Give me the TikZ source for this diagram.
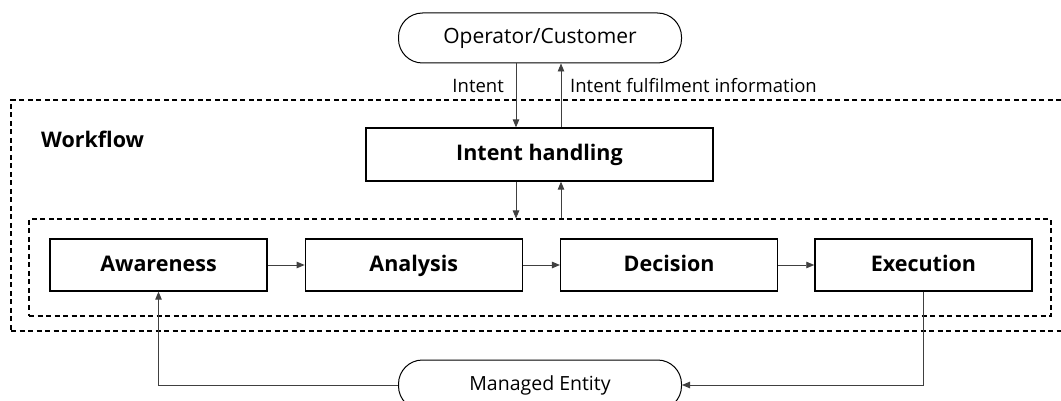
\documentclass[tikz,border=0pt]{standalone}
\usepackage{fontspec}
\setmainfont{Open Sans}
\usepackage{tikz}
\usetikzlibrary{shapes,shapes.misc,arrows.meta,calc,positioning}
\tikzset{
  stage/.style={draw, line width=1.3pt, minimum width=217pt, minimum height=52pt, text centered, inner sep=0pt, text height=16.5pt, text depth=3.5pt, font=\fontsize{21.5}{24}\selectfont\bfseries},
  term/.style={draw, line width=1pt, rounded corners=24pt, minimum width=283pt, minimum height=50pt, text centered, inner sep=0pt, text height=15pt, text depth=4.5pt},
  frame/.style={draw, line width=1.1pt, dash pattern=on 5pt off 3.5pt, inner sep=0pt},
  flow/.style={draw=black!75, line width=0.9pt, -{Triangle[length=8pt,width=6.5pt]}},
  lbl/.style={inner sep=0pt, font=\fontsize{18.5}{21}\selectfont}
}
\begin{document}
\begin{tikzpicture}[x=1pt,y=-1pt]
    \useasboundingbox (0,0) rectangle (1061,401);
    % frames
    \node (wf) [frame,minimum width=1064pt,minimum height=231pt] at (543,215.5) {};
    \node (lp) [frame,minimum width=1022pt,minimum height=97pt] at (540,267.5) {};
    \node (wlabel) [anchor=west,inner sep=0pt,font=\fontsize{21.5}{24}\selectfont\bfseries] at (41,139) {Workflow};
    % nodes
    \node (op) [term,font=\fontsize{21}{24}\selectfont] at (540,38) {Operator/Customer};
    \node (ih) [stage,minimum width=347pt,minimum height=53pt] at (539.5,154.5) {Intent handling};
    \node (aw) [stage] at (158.5,265) {Awareness};
    \node (an) [stage,right=37pt of aw] {Analysis};
    \node (de) [stage,right=37pt of an] {Decision};
    \node (ex) [stage,right=36pt of de] {Execution};
    \node (me) [term,font=\fontsize{19.5}{22}\selectfont] at (540,385) {Managed Entity};
    \coordinate (xl) at (516,0);
    \coordinate (xr) at (561,0);
    % intent
    \path (op.south -| xl) edge [flow] (ih.north -| xl);
    \path (ih.north -| xr) edge [flow] (op.south -| xr);
    \node (il) [lbl,anchor=east] at (504,86) {Intent};
    \node (fl) [lbl,anchor=west] at (570,86) {Intent fulfilment information};
    \path (ih.south -| xl) edge [flow] (lp.north -| xl);
    \path (lp.north -| xr) edge [flow] (ih.south -| xr);
    % loop
    \path (aw) edge [flow] (an);
    \path (an) edge [flow] (de);
    \path (de) edge [flow] (ex);
    \draw [flow] (ex.south) |- (me.east);
    \draw [flow] (me.west) -| (aw.south);
\end{tikzpicture}
\end{document}
